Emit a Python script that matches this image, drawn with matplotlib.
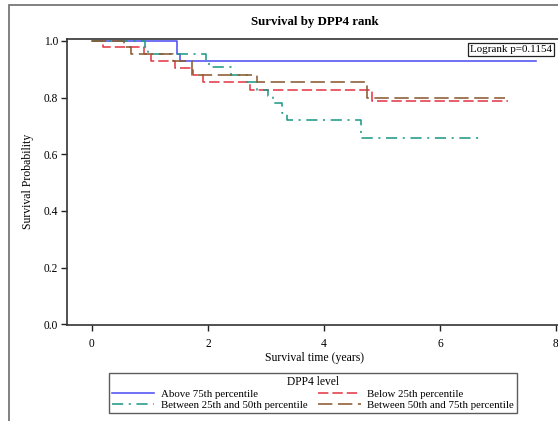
import matplotlib
matplotlib.use("Agg")
import matplotlib.pyplot as plt
from matplotlib.patches import Rectangle

plt.rcParams['font.family'] = ['Liberation Serif', 'DejaVu Serif']

# ---- data ----
title = "Survival by DPP4 rank"
xlabel = "Survival time (years)"
ylabel = "Survival Probability"
legend_title = "DPP4 level"
logrank_text = "Logrank p=0.1154"
x_ticks = [0, 2, 4, 6, 8]
y_ticks = [0.0, 0.2, 0.4, 0.6, 0.8, 1.0]

above75_label = "Above 75th percentile"
above75_t = [0, 1.47, 1.52, 7.66]
above75_s = [1.0, 0.955, 0.93, 0.93]

below25_label = "Below 25th percentile"
below25_t = [0, 0.19, 0.89, 1.02, 1.43, 1.75, 1.92, 2.73, 4.82, 7.18]
below25_s = [1.0, 0.977, 0.953, 0.927, 0.904, 0.88, 0.854, 0.827, 0.787, 0.787]

b25_50_label = "Between 25th and 50th percentile"
b25_50_t = [0, 0.92, 0.97, 1.97, 2.02, 2.40, 2.68, 2.85, 3.04, 3.12, 3.27, 3.37, 4.64, 6.69]
b25_50_s = [1.0, 0.977, 0.953, 0.93, 0.907, 0.88, 0.855, 0.827, 0.804, 0.78, 0.746, 0.722, 0.657, 0.657]

b50_75_label = "Between 50th and 75th percentile"
b50_75_t = [0, 0.56, 0.68, 1.39, 1.73, 2.84, 4.75, 7.12]
b50_75_s = [1.0, 0.979, 0.953, 0.927, 0.88, 0.853, 0.80, 0.80]

# ---- figure ----
W, H = 558, 421
DPI = 100
fig = plt.figure(figsize=(W / DPI, H / DPI), dpi=DPI)

def fx(px):
    return px / W

def fy(py):
    return 1 - py / H

# outer frame (extends beyond right/bottom edges)
fig.add_artist(Rectangle((fx(9), fy(440)), fx(600), fy(5) - fy(440),
                         transform=fig.transFigure, fill=False,
                         edgecolor='#777777', linewidth=1.3))

ax_left, ax_right = 67, 561.8
ax_top, ax_bottom = 38.5, 325
ax = fig.add_axes([fx(ax_left), fy(ax_bottom), fx(ax_right - ax_left),
                   fy(ax_top) - fy(ax_bottom)])

LW = 1.15
ax.step(above75_t, above75_s, where='post', color='#5050f5', lw=LW,
        label=above75_label)
ax.step(below25_t, below25_s, where='post', color='#e33a48', lw=LW,
        dashes=(6.5, 2.5), label=below25_label)
ax.step(b25_50_t, b25_50_s, where='post', color='#1f9a86', lw=LW,
        dashes=(7, 3.5, 1.3, 3.5), label=b25_50_label)
ax.step(b50_75_t, b50_75_s, where='post', color='#8c5a32', lw=LW,
        dashes=(9, 3.5), label=b50_75_label)

ax.set_xlim(-0.43, 8.1)
ax.set_ylim(-0.002, 1.008)
ax.set_xticks(x_ticks)
ax.set_xticklabels([str(v) for v in x_ticks])
ax.set_yticks(y_ticks)
ax.set_yticklabels([f"{v:.1f}" for v in y_ticks])
ax.tick_params(axis='both', labelsize=8.3, length=4.5, width=1.0,
               direction='out', color='#222222')
ax.tick_params(axis='y', pad=2)
ax.tick_params(axis='x', pad=5)
for sp in ax.spines.values():
    sp.set_linewidth(1.2)
    sp.set_color('#333333')

ax.set_title(title, fontsize=9.3, fontweight='bold', pad=10)
ax.set_xlabel(xlabel, fontsize=8.5, labelpad=1.5)
ax.set_ylabel(ylabel, fontsize=8.5, labelpad=7)

fig.text(fx(511), fy(49.7), logrank_text, ha='center', va='center',
         fontsize=7.9,
         bbox=dict(boxstyle='square,pad=0.2', facecolor='white',
                   edgecolor='#222222', linewidth=0.9))

handles, labels = ax.get_legend_handles_labels()
order = [0, 2, 1, 3]
leg = fig.legend([handles[i] for i in order], [labels[i] for i in order],
                 title=legend_title, ncol=2, loc='center',
                 bbox_to_anchor=(fx(312.9), fy(392.7)),
                 fontsize=7.8, title_fontsize=8.3, frameon=True, fancybox=False,
                 handlelength=3.9, handletextpad=0.6, columnspacing=1.0,
                 labelspacing=0.12, borderpad=0.3, borderaxespad=0)
leg.get_frame().set_edgecolor('#333333')
leg.get_frame().set_linewidth(1.0)

fig.savefig("out.png", dpi=DPI)
